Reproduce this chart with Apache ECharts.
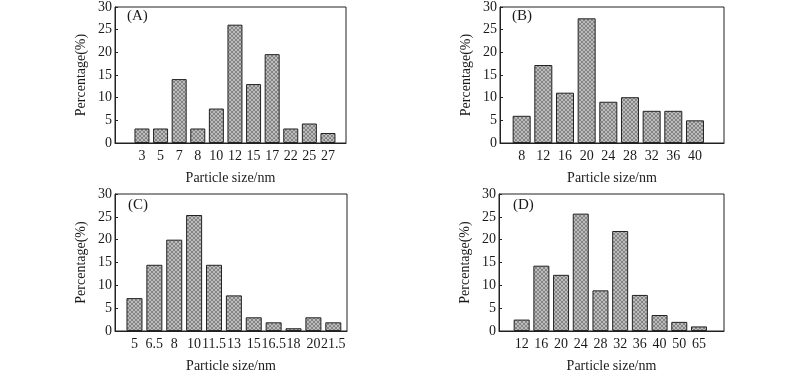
<!DOCTYPE html>
<html>
<head>
<meta charset="utf-8">
<script src="https://cdn.jsdelivr.net/npm/echarts@6/dist/echarts.min.js"></script>
<style>
html,body{margin:0;padding:0;background:#fff;}
#chart{width:800px;height:374px;}
</style>
</head>
<body>
<div id="chart"></div>
<script>
// ---- data ----
const catsA = ['3','5','7','8','10','12','15','17','22','25','27'];
const valsA = [3.2, 3.2, 14.1, 3.2, 7.6, 26.1, 13.0, 19.6, 3.2, 4.3, 2.2];

const catsB = ['8','12','16','20','24','28','32','36','40'];
const valsB = [6.0, 17.2, 11.1, 27.5, 9.1, 10.1, 7.1, 7.1, 5.0];

const catsC = ['5','6.5','8','10','11.5','13','15','16.5','18','20','21.5'];
const valsC = [7.2, 14.5, 20.0, 25.4, 14.5, 7.8, 3.0, 1.9, 0.6, 3.0, 1.9];

const catsD = ['12','16','20','24','28','32','36','40','50','65'];
const valsD = [2.5, 14.3, 12.3, 25.7, 8.9, 21.9, 7.9, 3.5, 2.0, 1.0];

const yTicks = [0, 5, 10, 15, 20, 25, 30];
const panelLabels = ['(A)', '(B)', '(C)', '(D)'];
const xTitle = 'Particle size/nm';
const yTitle = 'Percentage(%)';

// ---- hatch pattern ----
function makePattern() {
  const c = document.createElement('canvas');
  c.width = 4; c.height = 4;
  const g = c.getContext('2d');
  g.fillStyle = '#bcbcbc';
  g.fillRect(0, 0, 4, 4);
  g.fillStyle = '#858585';
  for (let i = 0; i < 4; i++) {
    g.fillRect(i, i, 1, 1);
    g.fillRect(3 - i, i, 1, 1);
  }
  return c;
}
const pattern = { image: makePattern(), repeat: 'repeat' };

const FONT = 'Liberation Serif';
const TXT = '#1a1a1a';

const panels = [
  { cats: catsA, vals: valsA, grid: { left: 115, top: 5, width: 231, height: 138 }, xmin: -1.45, xmax: 10.97, bw: 15, lab: [127, 9] },
  { cats: catsB, vals: valsB, grid: { left: 500, top: 5, width: 224, height: 138 }, xmin: -1.0, xmax: 9.34, bw: 18, lab: [512, 9] },
  { cats: catsC, vals: valsC, grid: { left: 115, top: 194, width: 232, height: 138 }, xmin: -0.98, xmax: 10.69, bw: 16, lab: [128, 198] },
  { cats: catsD, vals: valsD, grid: { left: 499, top: 194, width: 225, height: 138 }, xmin: -1.15, xmax: 10.27, bw: 16, lab: [513, 198] }
];

const option = {
  animation: false,
  backgroundColor: '#fff',
  textStyle: { fontFamily: FONT },
  title: panels.map((p, i) => ({
    text: panelLabels[i],
    left: p.lab[0], top: p.lab[1],
    padding: 0,
    textStyle: { fontFamily: FONT, fontSize: 15, fontWeight: 'normal', color: TXT }
  })),
  grid: panels.map(p => Object.assign({ show: true, borderColor: '#222', borderWidth: 1, backgroundColor: 'transparent' }, p.grid)),
  xAxis: panels.map((p, i) => ({
    type: 'value', gridIndex: i, min: p.xmin, max: p.xmax,
    name: xTitle, nameLocation: 'middle', nameGap: 28,
    nameTextStyle: { fontFamily: FONT, fontSize: 14, color: TXT },
    axisLine: { show: true, onZero: false, lineStyle: { color: '#222', width: 1 } },
    axisTick: { show: false },
    splitLine: { show: false },
    axisLabel: {
      customValues: p.cats.map((c, k) => k),
      formatter: v => p.cats[Math.round(v)],
      fontFamily: FONT, fontSize: 14, color: TXT, margin: 6
    }
  })),
  yAxis: panels.map((p, i) => ({
    type: 'value', gridIndex: i, min: 0, max: 30, interval: 5,
    name: yTitle, nameLocation: 'middle', nameGap: 27,
    nameTextStyle: { fontFamily: FONT, fontSize: 14, color: TXT },
    axisLine: { show: true, onZero: false, lineStyle: { color: '#222', width: 1 } },
    axisTick: { show: true, inside: true, length: 3, lineStyle: { color: '#222' } },
    splitLine: { show: false },
    axisLabel: {
      formatter: v => (yTicks.indexOf(v) >= 0 ? String(v) : ''),
      fontFamily: FONT, fontSize: 14, color: TXT, margin: 3
    }
  })),
  series: panels.map((p, i) => ({
    type: 'bar', xAxisIndex: i, yAxisIndex: i,
    barWidth: p.bw,
    data: p.vals.map((v, k) => [k, v]),
    itemStyle: { color: pattern, borderColor: '#222', borderWidth: 1 }
  }))
};

const chart = echarts.init(document.getElementById('chart'), null, { renderer: 'canvas' });
chart.setOption(option);
</script>
</body>
</html>
